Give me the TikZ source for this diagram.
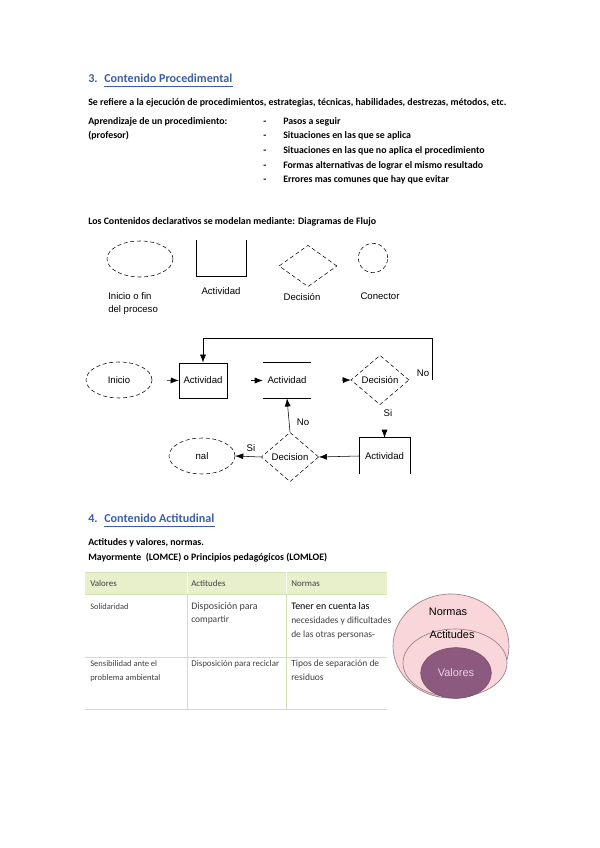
\documentclass[tikz,border=0pt]{standalone}
\usepackage{fontspec}
\setmainfont{Carlito}
\newfontfamily\arialf{Liberation Sans}
\usetikzlibrary{shapes.geometric,arrows.meta}
\newcommand\fsz[1]{\fontsize{#1}{#1}\selectfont}
\definecolor{headblue}{HTML}{3C5FAA}
\definecolor{tabline}{HTML}{D3E0B4}
\definecolor{tabhead}{HTML}{E8EFCB}
\definecolor{tabtext}{HTML}{404040}
\definecolor{vpink}{HTML}{F8D6DA}
\definecolor{vedge}{HTML}{9A7F86}
\definecolor{vmauve}{HTML}{8C5A7E}
\definecolor{vlight}{HTML}{E9D3E3}
\tikzset{
  txt/.style={inner sep=0pt,text height=0.72em,text depth=0.22em},
  head/.style={txt,anchor=west,font=\fsz{9.1}\bfseries,text=headblue},
  body/.style={txt,anchor=west,font=\fsz{7.4}\bfseries},
  fc/.style={txt,font=\arialf\fsz{7.2}},
  dsh/.style={draw,thin,dash pattern=on 3pt off 2pt},
  ell/.style={ellipse,dsh,minimum width=49.5pt,minimum height=27pt,fc},
  dia/.style={diamond,dsh,minimum width=43.5pt,minimum height=31pt,fc},
  arr/.style={thin,-{Latex[length=6pt,width=4.5pt]}},
  tab/.style={txt,anchor=west,font=\fsz{7.1},text=tabtext},
  venn/.style={txt,font=\arialf\fsz{8.2}}
}
\begin{document}
\begin{tikzpicture}[x=0.75pt,y=-0.75pt]
\useasboundingbox[fill=white] (0,0) rectangle (599,848);

% ---- Section 3 ----
\node[head] (n3) at (88,79) {3.};
\node[head] (h3) at (104,79) {Contenido Procedimental};
\draw[headblue,line width=0.6pt] ([yshift=-0.6pt]h3.south west) -- ([yshift=-0.6pt]h3.south east);
\node[body] (t1) at (88,102) {Se refiere a la ejecución de procedimientos, estrategias, técnicas, habilidades, destrezas, métodos, etc.};
\node[body] (t2) at (88,121) {Aprendizaje de un procedimiento:};
\node[body] (t3) at (88,135) {(profesor)};
\foreach \yy/\tx [count=\i] in {121/Pasos a seguir,135/Situaciones en las que se aplica,150/Situaciones en las que no aplica el procedimiento,165/Formas alternativas de lograr el mismo resultado,179/Errores mas comunes que hay que evitar}{
  \node[body] (d\i) at (263,\yy) {-};
  \node[body] (b\i) at (283,\yy) {\tx};
}
\node[body] (t4) at (88,221) {Los Contenidos declarativos se modelan mediante: Diagramas de Flujo};

% ---- legend shapes ----
\node[ell,minimum height=27pt] (lg1) at (140,259) {};
\coordinate (ob1) at (196,240);
\coordinate (ob2) at (246,240);
\draw[thin] (ob1) -- (196,276) -- (246,276) -- (ob2);
\node[dia] (lg3) at (308,266) {};
\node[circle,dsh,minimum size=22pt,inner sep=0pt] (lg4) at (373,258) {};
\node[fc,anchor=west] (l1a) at (108,296) {Inicio o fin};
\node[fc,anchor=west] (l1b) at (108,309) {del proceso};
\node[fc] (l2) at (221,291) {Actividad};
\node[fc] (l3) at (302,297) {Decisión};
\node[fc] (l4) at (380,296) {Conector};

% ---- flowchart ----
\node[ell] (ini) at (119,380) {Inicio};
\node[draw,thin,fc,minimum width=36pt,minimum height=26.5pt] (act1) at (203,380.5) {Actividad};
\node[fc,minimum width=36pt,minimum height=26.5pt] (act2) at (287,380.5) {Actividad};
\draw[thin] (act2.north west) -- (act2.north east);
\draw[thin] (act2.south west) -- (act2.south east);
\node[dia] (dec1) at (380,380) {Decisión};
\coordinate (lp) at (432,380);
\coordinate (lt) at (432,338);
\draw[arr,shorten <=11pt] (ini.east) -- (act1.west);
\draw[arr,shorten <=18pt] (act1.east) -- (act2.west);
\draw[arr,shorten <=23pt] (act2.east) -- (dec1.west);
\draw[arr] (lp) -- (lt) -| (act1.north);
\node[fc] (no1) at (423,373) {No};
\node[fc] (si1) at (388,413) {Si};
\node[fc,minimum width=38pt,minimum height=27pt] (act3) at (384.5,456) {Actividad};
\draw[thin] (act3.south west) -- (act3.north west) -- (act3.north east) -- (act3.south east);
\draw[arr,shorten <=19pt] (dec1.south -| act3.north) -- (act3.north);
\node[dia,minimum width=43pt,minimum height=30pt] (dec2) at (290,457) {Decision};
\draw[arr] (act3.west) -- (dec2.east);
\draw[arr] (dec2.north) -- (act2.south);
\node[fc] (no2) at (303,422) {No};
\node[ell] (fin) at (202,456) {nal};
\draw[arr] (dec2.west) -- (fin.east);
\node[fc] (si2) at (251,448) {Si};

% ---- Section 4 ----
\node[head] (n4) at (88,519) {4.};
\node[head] (h4) at (104,519) {Contenido Actitudinal};
\draw[headblue,line width=0.6pt] ([yshift=-0.6pt]h4.south west) -- ([yshift=-0.6pt]h4.south east);
\node[body] (t5) at (88,542) {Actitudes y valores, normas.};
\node[body] (t6) at (88,557) {Mayormente\ \ (LOMCE) o Principios pedagógicos (LOMLOE)};

% ---- table ----
\fill[tabhead] (85,572) rectangle (387,594);
\draw[tabline,line width=0.6pt] (85,572) -- (387,572);
\draw[tabline,line width=0.6pt] (85,594) -- (387,594);
\draw[tabline,line width=0.6pt] (85,657) -- (387,657);
\draw[tabline,line width=0.6pt] (85,709) -- (387,709);
\draw[white,line width=0.6pt] (187,572) -- (187,594);
\draw[white,line width=0.6pt] (286,572) -- (286,594);
\draw[tabline,line width=0.6pt] (187,594) -- (187,709);
\draw[tabline,line width=0.6pt] (286,594) -- (286,709);
\node[tab,font=\fsz{6.7}] (c11) at (90,583) {Valores};
\node[tab,font=\fsz{6.7}] (c12) at (191,583) {Actitudes};
\node[tab,font=\fsz{6.7}] (c13) at (291,583) {Normas};
\node[tab,font=\fsz{6.3}] (c21) at (90,606) {Solidaridad};
\node[tab,font=\fsz{7.5}] (c22a) at (191,606) {Disposición para};
\node[tab] (c22b) at (191,619) {compartir};
\node[tab,font=\fsz{7.5},text=black] (c23a) at (291,606) {Tener en cuenta las};
\node[tab] (c23b) at (291,620) {necesidades y dificultades};
\node[tab] (c23c) at (291,634) {de las otras personas-};
\node[tab,font=\fsz{6.4}] (c31) at (90,663) {Sensibilidad ante el};
\node[tab,font=\fsz{6.4}] (c31b) at (90,677) {problema ambiental};
\node[tab,font=\fsz{6.7}] (c32) at (191,663) {Disposición para reciclar};
\node[tab] (c33) at (291,663) {Tipos de separación de};
\node[tab] (c33b) at (291,677) {residuos};

% ---- nested ellipses ----
\draw[vedge,fill=vpink,line width=0.5pt] (451,646) ellipse [x radius=43.5pt, y radius=39pt];
\draw[vedge,fill=vpink,line width=0.5pt] (455,663) ellipse [x radius=39pt, y radius=25.5pt];
\draw[vmauve!80!black,fill=vmauve,line width=0.4pt] (456,673) ellipse [x radius=26.5pt, y radius=19pt];
\node[venn] (v1) at (448,612) {Normas};
\node[venn] (v2) at (452,635) {Actitudes};
\node[venn,text=vlight] (v3) at (456,673) {Valores};
\end{tikzpicture}
\end{document}
